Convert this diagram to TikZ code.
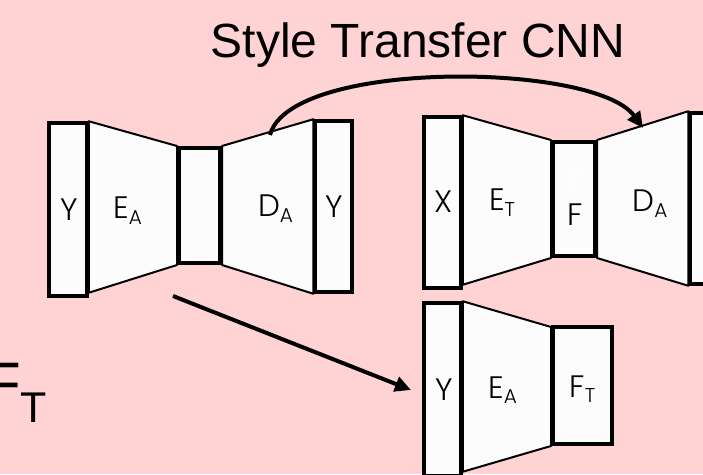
\documentclass[tikz,border=0pt]{standalone}
\usepackage{fontspec}
\setmainfont{Liberation Sans}
\newfontfamily\boxfont{Poppins}[UprightFont=* Light]
\usetikzlibrary{arrows.meta}
\definecolor{pinkbg}{RGB}{255,211,211}
\definecolor{panel}{RGB}{252,252,252}
\pgfdeclarelayer{back}
\pgfdeclarelayer{trap}
\pgfsetlayers{back,trap,main}
% letter with a lowered small subscript
\newcommand\sublbl[2]{#1\raisebox{-5.5pt}{\fontsize{20}{20}\selectfont #2}}

\begin{document}
\begin{tikzpicture}[x=1pt,y=1pt,
  block/.style={draw, line width=3.5pt, fill=panel, inner sep=0pt},
  core/.style={block, line width=4pt},
  wedge/.style={draw, line width=2pt, fill=panel, line join=round},
  tag/.style={font=\boxfont\fontsize{31}{31}\selectfont, anchor=base, inner sep=0pt},
  link/.style={line width=4pt, -{Triangle[length=16pt,width=15pt]}}
]
\clip (0,0) rectangle (703,474);
\begin{pgfonlayer}{back}
  \fill[pinkbg] (0,0) rectangle (703,474);
\end{pgfonlayer}

% title
\node[font=\fontsize{48}{48}\selectfont, anchor=base, inner sep=0pt] (title) at (418,416) {Style Transfer CNN};

% side label, partly off the left edge
\node[anchor=base west, inner sep=0pt] (ftside) at (-16,69.5)
  {\fontsize{60}{60}\selectfont F\raisebox{-17.5pt}{\fontsize{43}{43}\selectfont T}};

% auto-encoder A (left)
\node[block, minimum width=38pt, minimum height=173pt] (yA) at (68,264.5) {};
\node[core,  minimum width=41pt, minimum height=115pt] (midA) at (199.5,268.5) {};
\node[block, minimum width=37pt, minimum height=171pt] (yA2) at (333.5,267.5) {};

% style transfer network (top right)
\node[block, minimum width=37pt, minimum height=171pt] (xT) at (442.5,271.5) {};
\node[core,  minimum width=42pt, minimum height=114pt] (fT) at (574,275) {};
\node[block, minimum width=37pt, minimum height=171pt] (yT) at (708.5,275.5) {};

% encoder of A applied to Y (bottom right)
\node[block, minimum width=37pt, minimum height=173pt] (yB) at (442.5,84.5) {};
\node[core,  minimum width=59pt, minimum height=117pt] (ftB) at (582.5,88.5) {};

\begin{pgfonlayer}{trap}
  \draw[wedge] (yA.north east) -- (midA.north west) -- (midA.south west) -- ([yshift=5pt]yA.south east) -- cycle;
  \draw[wedge] (midA.north east) -- (yA2.north west) -- (yA2.south west) -- (midA.south east) -- cycle;
  \draw[wedge] (xT.north east) -- (fT.north west) -- (fT.south west) -- ([yshift=5pt]xT.south east) -- cycle;
  \draw[wedge] (fT.north east) -- (yT.north west) -- (yT.south west) -- (fT.south east) -- cycle;
  \draw[wedge] (yB.north east) -- ([yshift=-2pt]ftB.north west) -- (ftB.south west) -- ([yshift=6pt]yB.south east) -- cycle;
\end{pgfonlayer}

% texts inside the blocks
\node[tag] (tYa)  at (69,253)    {Y};
\node[tag] (tEa)  at (127.5,255) {\sublbl{E}{A}};
\node[tag] (tDa)  at (275.5,257) {\sublbl{D}{A}};
\node[tag] (tYa2) at (334.5,256) {Y};
\node[tag] (tX)   at (444,261)   {X};
\node[tag] (tEt)  at (502,263)   {\sublbl{E}{T}};
\node[tag, text=white] (tFw) at (575,282) {F};
\node[tag] (tF)   at (575,248)   {F};
\node[tag] (tDt)  at (650,262)   {\sublbl{D}{A}};
\node[tag] (tYb)  at (444,74)    {Y};
\node[tag] (tEb)  at (502.5,76)  {\sublbl{E}{A}};
\node[tag] (tFt)  at (582.5,77)  {\sublbl{F}{T}};

% connectors
\coordinate (dOut) at (270,339);
\coordinate (dIn)  at (643,346);
\coordinate (eOut) at (173,178);
\coordinate (eIn)  at (411,84);
\draw[link] (dOut) .. controls (290,415) and (595,412) .. (dIn);
\draw[link] (eOut) -- (eIn);
\end{tikzpicture}
\end{document}
